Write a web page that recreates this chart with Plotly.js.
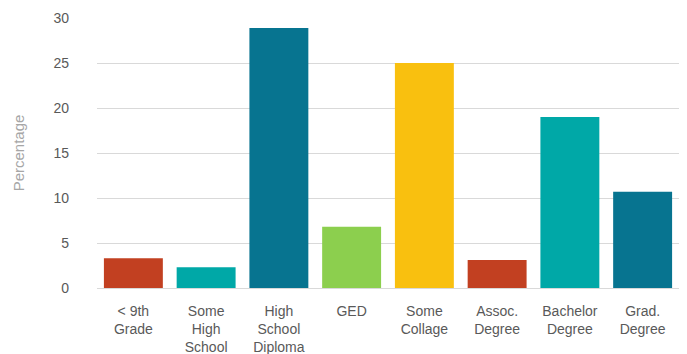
<!DOCTYPE html>
<html>
<head>
<meta charset="utf-8">
<script src="https://cdn.plot.ly/plotly-3.0.1.min.js"></script>
<style>html,body{margin:0;padding:0;background:#fff;}#chart{width:687px;height:354px;}</style>
</head>
<body>
<div id="chart"></div>
<script>
const categories = ["< 9th<br>Grade", "Some<br>High<br>School", "High<br>School<br>Diploma", "GED", "Some<br>Collage", "Assoc.<br>Degree", "Bachelor<br>Degree", "Grad.<br>Degree"];
const percentages = [3.3, 2.3, 28.9, 6.8, 25.0, 3.1, 19.0, 10.7];
const barColors = ["#C24021", "#00A8A7", "#077490", "#8CCF4E", "#F9C00F", "#C24021", "#00A8A7", "#077490"];

const trace = {
  type: "bar",
  x: categories,
  y: percentages,
  marker: {color: barColors},
  hoverinfo: "x+y"
};

const layout = {
  width: 687,
  height: 354,
  margin: {l: 97, r: 8, t: 18, b: 66},
  paper_bgcolor: "#fff",
  plot_bgcolor: "#fff",
  bargap: 0.19,
  showlegend: false,
  font: {family: "Liberation Sans, Arial, sans-serif", size: 14, color: "#595959"},
  xaxis: {
    type: "category",
    tickfont: {size: 14, color: "#595959"},
    showgrid: false,
    zeroline: false,
    showline: false,
    ticks: "",
    ticklabelstandoff: 13
  },
  yaxis: {
    range: [0, 30],
    dtick: 5,
    tickfont: {size: 14, color: "#595959"},
    gridcolor: "#D9D9D9",
    gridwidth: 1,
    zeroline: true,
    zerolinecolor: "#D9D9D9",
    zerolinewidth: 1,
    showline: false,
    ticks: "",
    ticklabelstandoff: 27,
    title: {text: "Percentage", font: {size: 15, color: "#A6A6A6"}, standoff: 25}
  }
};

Plotly.newPlot("chart", [trace], layout, {displayModeBar: false, staticPlot: true});
</script>
</body>
</html>
